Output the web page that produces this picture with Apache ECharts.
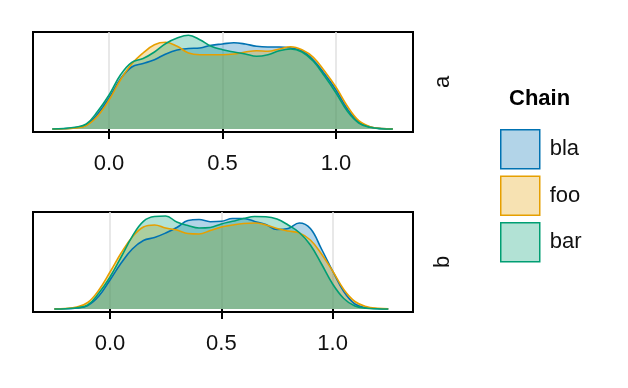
<!DOCTYPE html>
<html>
<head>
<meta charset="utf-8">
<script src="https://cdn.jsdelivr.net/npm/echarts@6/dist/echarts.min.js"></script>
<style>html,body{margin:0;padding:0;background:#fff;}#c{width:628px;height:388px;}</style>
</head>
<body>
<div id="c"></div>
<script>
var xs = [-0.25,-0.2,-0.15,-0.1,-0.05,0,0.05,0.1,0.15,0.2,0.25,0.3,0.35,0.4,0.45,0.5,0.55,0.6,0.65,0.7,0.75,0.8,0.85,0.9,0.95,1.0,1.05,1.1,1.15,1.2,1.25];
var chains = ['bla','foo','bar'];
var panels = ['a','b'];
var tickValues = [0, 0.5, 1.0];

var blaA = [0,0.003,0.013,0.04,0.15,0.31,0.50,0.62,0.655,0.693,0.75,0.79,0.805,0.81,0.837,0.85,0.863,0.85,0.827,0.82,0.82,0.81,0.783,0.69,0.55,0.39,0.20,0.07,0.02,0.004,0];
var fooA = [0,0.002,0.01,0.035,0.13,0.29,0.49,0.65,0.76,0.843,0.867,0.827,0.76,0.743,0.743,0.743,0.75,0.77,0.783,0.777,0.80,0.823,0.793,0.717,0.577,0.417,0.227,0.083,0.023,0.005,0.001];
var barA = [0,0.005,0.017,0.05,0.177,0.34,0.54,0.667,0.705,0.77,0.855,0.91,0.937,0.893,0.827,0.793,0.77,0.75,0.727,0.743,0.783,0.80,0.77,0.677,0.527,0.36,0.177,0.06,0.017,0.003,0];

var blaB = [0,0.002,0.01,0.035,0.13,0.29,0.46,0.60,0.685,0.715,0.76,0.815,0.885,0.895,0.873,0.877,0.905,0.905,0.875,0.845,0.795,0.805,0.86,0.805,0.60,0.38,0.175,0.05,0.013,0.003,0];
var fooB = [0.001,0.005,0.02,0.065,0.19,0.37,0.56,0.72,0.82,0.84,0.81,0.79,0.755,0.75,0.785,0.82,0.84,0.855,0.86,0.84,0.805,0.78,0.76,0.69,0.55,0.38,0.195,0.075,0.025,0.007,0.002];
var barB = [0,0.003,0.012,0.04,0.16,0.32,0.52,0.727,0.877,0.925,0.93,0.87,0.835,0.81,0.815,0.85,0.877,0.905,0.925,0.923,0.90,0.84,0.765,0.64,0.45,0.25,0.105,0.03,0.008,0.002,0];

var lineColors = ['#0072B2','#E69F00','#009E73'];
var fillColors = ['rgba(0,114,178,0.3)','rgba(230,159,0,0.3)','rgba(0,158,115,0.3)'];
var dataA = [blaA, fooA, barA];
var dataB = [blaB, fooB, barB];

function pairs(arr){ return xs.map(function(x,i){ return [x, arr[i]]; }); }

var FONT = 'Liberation Sans, Arial, sans-serif';

function xAxisCfg(idx, min, max){
  return {
    type:'value', gridIndex: idx, min:min, max:max,
    axisLine:{show:false},
    axisTick:{show:true, length:10, customValues: tickValues, lineStyle:{color:'#000', width:2}},
    axisLabel:{customValues: tickValues, margin:21, fontSize:22, color:'#111', fontFamily:FONT,
      formatter:function(v){ return v.toFixed(1); }},
    splitLine:{show:true, lineStyle:{color:'#e0e0e0', width:1.5}}
  };
}
function yAxisCfg(idx){
  return {type:'value', gridIndex: idx, min:-0.03, max:0.97,
    axisLine:{show:false}, axisTick:{show:false}, axisLabel:{show:false}, splitLine:{show:false}};
}

var series = [];
[dataA, dataB].forEach(function(d, p){
  chains.forEach(function(name, k){
    series.push({
      type:'line', name:name, xAxisIndex:p, yAxisIndex:p,
      data: pairs(d[k]), smooth:0.4, showSymbol:false, symbol:'none',
      lineStyle:{color:lineColors[k], width:1.6},
      itemStyle:{color:lineColors[k]},
      areaStyle:{color:fillColors[k], opacity:1},
      emphasis:{disabled:true}, animation:false
    });
  });
});

var chart = echarts.init(document.getElementById('c'), null, {renderer:'canvas'});
chart.setOption({
  animation:false,
  backgroundColor:'#fff',
  textStyle:{fontFamily:FONT},
  title:{text:'Chain', left:509, top:88, padding:0,
    textStyle:{fontSize:22, fontWeight:'bold', color:'#000', fontFamily:FONT}},
  legend:{
    orient:'vertical', left:500, top:129, padding:0, itemGap:6,
    itemWidth:39, itemHeight:39, icon:'rect', selectedMode:false,
    textStyle:{fontSize:22, color:'#111', fontFamily:FONT, padding:[0,0,0,5]},
    data: chains.map(function(n,k){
      return {name:n, itemStyle:{color:fillColors[k], borderColor:lineColors[k], borderWidth:1.5}};
    })
  },
  grid:[
    {left:33, top:32, width:380, height:100, show:true, borderColor:'#000', borderWidth:2, backgroundColor:'transparent'},
    {left:33, top:212, width:380, height:100, show:true, borderColor:'#000', borderWidth:2, backgroundColor:'transparent'}
  ],
  xAxis:[xAxisCfg(0, -0.335, 1.339), xAxisCfg(1, -0.346, 1.361)],
  yAxis:[yAxisCfg(0), yAxisCfg(1)],
  graphic:[
    {type:'text', x:443, y:82, rotation:Math.PI/2, style:{text:panels[0], font:'22px '+FONT, fill:'#111', textAlign:'center', textVerticalAlign:'middle'}},
    {type:'text', x:443, y:262, rotation:Math.PI/2, style:{text:panels[1], font:'22px '+FONT, fill:'#111', textAlign:'center', textVerticalAlign:'middle'}}
  ],
  series: series
});
</script>
</body>
</html>
